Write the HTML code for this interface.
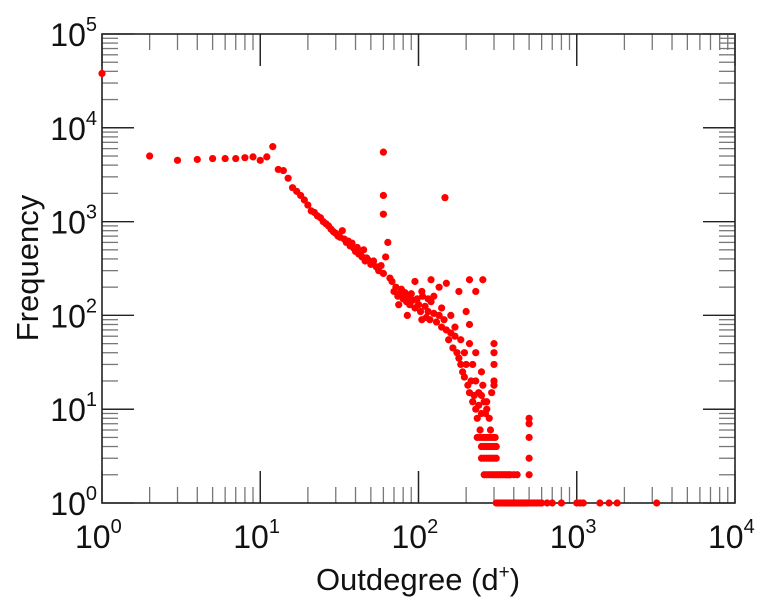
<!DOCTYPE html>
<html><head><meta charset="utf-8"><style>
body{margin:0;background:#fff;}
svg{display:block;font-family:"Liberation Sans",sans-serif;}
</style></head><body>
<svg id="chart" width="764" height="600"></svg>
<script>
const degrees = [1,2,3,4,5,6,7,8,9,10,11,12,13,14,15,16,17,18,19,20,21,22,23,24,25,26,27,28,29,30,31,32,33,34,35,36,37,38,39,40,41,42,43,44,45,46,47,48,50,52,54,56,58,60,62,64,66,68,70,72,74,76,78,80,82,84,86,88,90,92,95,98,100,103,106,110,112,115,118,120,125,130,135,140,145,150,155,160,165,170,175,180,185,190,195,200,205,210,215,220,225,230,235,240,245,250,
95,105,120,135,150,180,200,210,230,250,260,270,280,75,85,105,115,125,140,160,170,185,195,210,220,230,240,250,255,265,270,300,300,300,300,300,290,285,
60,60,60,147,255,210,230,
235,245,255,265,275,285,295,305,250,260,270,280,290,300,310,250,260,270,280,290,300,310,
260,270,280,290,300,310,320,330,340,350,360,370,380,400,420,500,500,500,500,500,
310,320,330,340,350,360,370,380,390,400,410,420,430,440,450,460,470,480,490,500,520,540,560,580,600,650,700,800,1000,1050,1100,1400,1600,1800,3200];
const frequencies = [38000,5000,4500,4600,4700,4700,4700,4800,4900,4500,4900,6300,3600,3500,2900,2300,2100,1900,1700,1500,1300,1250,1150,1100,1000,950,900,830,780,750,700,680,800,650,600,620,550,590,520,480,530,450,470,420,500,380,410,390,350,380,330,300,340,280,420,600,250,230,180,200,160,170,190,150,175,140,160,130,170,145,120,150,130,110,160,125,95,110,90,140,105,85,100,75,90,70,55,65,45,60,40,35,30,25,22,30,18,15,20,12,14,10,8,11,6,9,
230,180,240,200,220,180,110,80,40,14,12,10,8,130,100,90,150,160,120,100,75,55,40,50,30,20,15,25,18,9,12,20,30,40,50,18,15,6,
5500,1900,1200,1800,240,240,180,
5,5,5,5,5,5,5,5,4,4,4,4,4,4,4,3,3,3,3,3,3,3,
2,2,2,2,2,2,2,2,2,2,2,2,2,2,2,2,3,5,7,8,
1,1,1,1,1,1,1,1,1,1,1,1,1,1,1,1,1,1,1,1,1,1,1,1,1,1,1,1,1,1,1,1,1,1,1];
const xTickExps = [0,1,2,3,4];
const yTickExps = [0,1,2,3,4,5];

const L=102,R=735,T=34,B=503;
const X=v=>L+(Math.log10(v)-0)/4*(R-L);
const Y=v=>B-(Math.log10(v)-0)/5*(B-T);
const svg=document.getElementById('chart');
const NS='http://www.w3.org/2000/svg';
function mk(t,a){const e=document.createElementNS(NS,t);for(const k in a)e.setAttribute(k,a[k]);svg.appendChild(e);return e;}

for(let d=0;d<4;d++){for(let m=1;m<=10;m++){const v=Math.pow(10,d)*m;const x=X(v);const maj=(m===1||m===10);const len=maj?32:16;const c=maj?'#222':'#777';
 let e=mk('line',{x1:x,x2:x,y1:B,y2:B-len,stroke:c,'stroke-width':1.3});
 
 e=mk('line',{x1:x,x2:x,y1:T,y2:T+len,stroke:c,'stroke-width':1.3});
 }}
for(let d=0;d<5;d++){for(let m=1;m<=10;m++){const v=Math.pow(10,d)*m;const y=Y(v);const maj=(m===1||m===10);const len=maj?32:16;const c=maj?'#222':'#777';
 let e=mk('line',{x1:L,x2:L+len,y1:y,y2:y,stroke:c,'stroke-width':1.3});
 
 e=mk('line',{x1:R,x2:R-len,y1:y,y2:y,stroke:c,'stroke-width':1.3});
 }}
let fr=mk('rect',{x:L,y:T,width:R-L,height:B-T,fill:'none',stroke:'#222','stroke-width':1.6});


xTickExps.forEach(p=>{const t=mk('text',{x:X(Math.pow(10,p))-27,y:548,'font-size':32,fill:'#111'});
 t.innerHTML='10<tspan font-size="20" dy="-15">'+p+'</tspan>';
 });
yTickExps.forEach(p=>{const t=mk('text',{x:97,y:Y(Math.pow(10,p))+12,'font-size':32,'text-anchor':'end',fill:'#111'});
 t.innerHTML='10<tspan font-size="20" dy="-15">'+p+'</tspan>';
 });

for(let i=0;i<degrees.length;i++){const c=mk('circle',{cx:X(degrees[i]),cy:Y(frequencies[i]),r:3.6,fill:'#ff0000'});
 
 }

let xt=mk('text',{x:418,y:590,'font-size':31,'text-anchor':'middle',fill:'#111'});
xt.innerHTML='Outdegree (d<tspan font-size="19" dy="-12">+</tspan><tspan dy="12">)</tspan>';

let yt=mk('text',{x:0,y:0,'font-size':31,'text-anchor':'middle',fill:'#111',transform:'translate(38,268) rotate(-90)'});
yt.textContent='Frequency';

</script>
</body></html>
